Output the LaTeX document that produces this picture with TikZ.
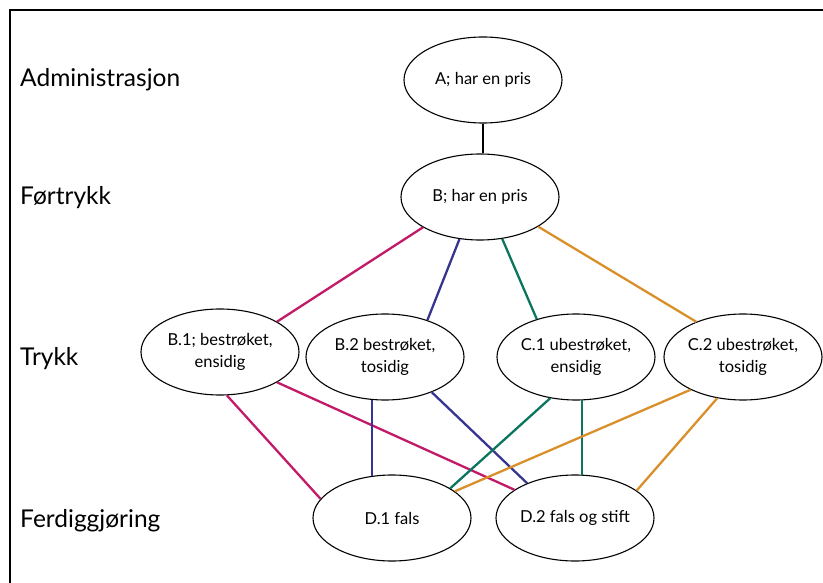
\documentclass[tikz,border=0pt]{standalone}
\usepackage{fontspec}
\setmainfont{Lato}
\usetikzlibrary{shapes.geometric}
\definecolor{cmag}{HTML}{C21A68}
\definecolor{cblue}{HTML}{36358F}
\definecolor{cgreen}{HTML}{0C7560}
\definecolor{corange}{HTML}{D98F2A}
\tikzset{
  ell/.style={ellipse, draw=black, line width=1.1pt, minimum width=158pt, minimum height=86pt, inner sep=0pt, align=center, font=\fontsize{16.5}{22}\selectfont},
  lvl/.style={anchor=base west, inner sep=0pt, font=\fontsize{24.5}{28}\selectfont},
  con/.style={line width=2.3pt},
}
\begin{document}
\begin{tikzpicture}[x=1pt,y=1pt]
\useasboundingbox (0,0) rectangle (823,-583);
\draw[line width=2.5pt] (10,-583) -- (10,-10) -- (823,-10);

\node[lvl] (lA) at (20,-87) {Administrasjon};
\node[lvl] (lB) at (20,-205) {Førtrykk};
\node[lvl] (lC) at (20,-365) {Trykk};
\node[lvl] (lD) at (20,-527) {Ferdiggjøring};

\node[ell] (A) at (483,-80) {A; har en pris};
\node[ell] (B) at (480,-197) {B; har en pris};
\node[ell] (B1) at (220,-352) {B.1; bestrøket,\\ensidig};
\node[ell] (B2) at (385,-357) {B.2 bestrøket,\\tosidig};
\node[ell] (C1) at (576,-357) {C.1 ubestrøket,\\ensidig};
\node[ell] (C2) at (743,-357) {C.2 ubestrøket,\\tosidig};
\node[ell] (D1) at (392,-518) {D.1 fals};
\node[ell] (D2) at (575,-518) {D.2 fals og stift};

\draw[con, black] (A.south) -- (A.south |- B.north);

\draw[con, cmag] (B.208.5) -- (B1.28.6);
\draw[con, cmag] (B1.279) -- (D1.165);
\draw[con, cmag] (B1.332) -- (D2.155);

\draw[con, cblue] (B.244) -- (B2.41);
\draw[con, cblue] (B2.253) -- (B2.253 |- D1.117);
\draw[con, cblue] (B2.323.5) -- (D2.144.5);

\draw[con, cgreen] (B.298) -- (C1.136);
\draw[con, cgreen] (C1.238.6) -- (D1.27.3);
\draw[con, cgreen] (C1.278) -- (C1.278 |- D2.81);

\draw[con, corange] (B.333.4) -- (C2.143.3);
\draw[con, corange] (C2.212) -- (D1.23);
\draw[con, corange] (C2.238) -- (D2.24.2);
\end{tikzpicture}
\end{document}
